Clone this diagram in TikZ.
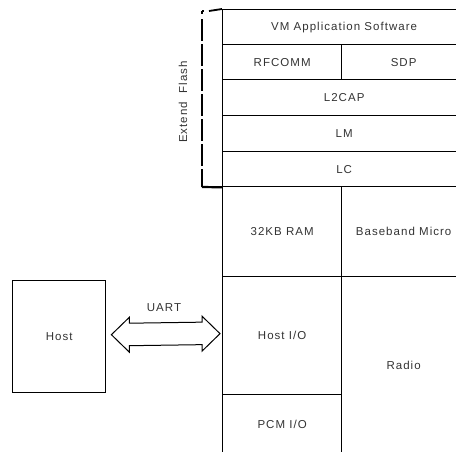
\documentclass[tikz,border=0pt]{standalone}
\usepackage{fontspec}
\setmainfont{Liberation Sans}[LetterSpace=9]
\usetikzlibrary{calc}
\begin{document}
\begin{tikzpicture}[x=1pt,y=-1pt,
  cell/.style={draw, line width=1.3pt, rectangle, inner sep=0pt, anchor=north west, text=black!80,
    font=\fontsize{11.5}{13}\selectfont},
  lbl/.style={text=black!80, inner sep=0pt, font=\fontsize{11.5}{13}\selectfont},
  hostbox/.style={draw, line width=1.4pt, rectangle, inner sep=0pt, anchor=north west, text=black!80,
    font=\fontsize{11.5}{13}\selectfont}]
\path[use as bounding box] (0,0) rectangle (456,451);
\clip (0,0) rectangle (456,451);
% software stack
\node[cell, minimum width=243pt, minimum height=35pt] (vm) at (222,9) {VM Application Software};
\node[cell, minimum width=119pt, minimum height=35pt] (rfcomm) at (222,44) {RFCOMM};
\node[cell, minimum width=124pt, minimum height=35pt] (sdp) at (341,44) {SDP};
\node[cell, minimum width=243pt, minimum height=36pt] (l2cap) at (222,79) {L2CAP};
\node[cell, minimum width=243pt, minimum height=36pt] (lm) at (222,115) {LM};
\node[cell, minimum width=243pt, minimum height=35pt] (lc) at (222,151) {LC};
% hardware
\node[cell, minimum width=119pt, minimum height=90pt] (ram) at (222,186) {32KB RAM};
\node[cell, minimum width=124pt, minimum height=90pt] (bb) at (341,186) {Baseband Micro};
\node[cell, minimum width=119pt, minimum height=118pt] (hostio) at (222,276) {Host I/O};
\node[cell, minimum width=119pt, minimum height=60pt] (pcm) at (222,394) {PCM I/O};
\node[cell, minimum width=124pt, minimum height=178pt] (radio) at (341,276) {Radio};
% host
\node[hostbox, minimum width=93pt, minimum height=112pt] (host) at (12,280) {Host};
% UART double arrow
\coordinate (tl) at ($(host.east)+(5,-2)$);
\coordinate (tr) at ($(hostio.west)+(-2,-2)$);
\draw[line width=1pt, fill=white]
  (tl) -- ++(18,-17.5) -- ++(0,6) -- ($(tr)+(-18,-11.5)$) -- ++(0,-6) -- (tr)
  -- ++(-18,17.5) -- ++(0,-6.5) -- ($(tl)+(18,11)$) -- ++(0,6.5) -- cycle;
\node[lbl] (uart) at (164,308) {UART};
% Extend Flash bracket
\coordinate (bt) at (202,11);
\coordinate (bb2) at (202,187);
\draw[line width=1.1pt, dash pattern=on 22pt off 3pt] (202,19) -- (bb2);
\draw[line width=2.2pt] (bb2) -- (lc.south west);
\draw[line width=1.8pt] (202,11) -- (204,11);
\draw[line width=1.8pt] (209,11) -- (vm.north west);
\draw[line width=1.1pt] (202,11) -- (202,14);
\node[lbl, rotate=90] (flash) at (183,102) {Extend\ \ Flash};
\end{tikzpicture}
\end{document}
